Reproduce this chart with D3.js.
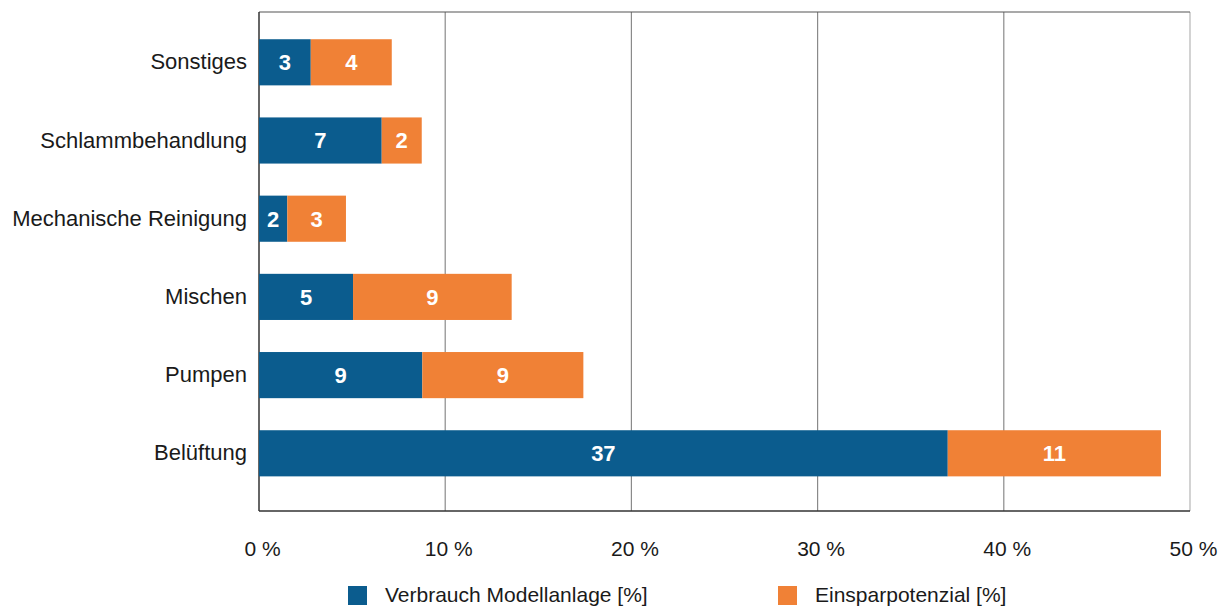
<!DOCTYPE html>
<html>
<head>
<meta charset="utf-8">
<script src="https://cdn.jsdelivr.net/npm/d3@7"></script>
<style>
  html, body { margin: 0; padding: 0; background: #fff; }
  svg { display: block; font-family: "Liberation Sans", Arial, Helvetica, sans-serif; }
</style>
</head>
<body>
<svg id="chart" width="1229" height="607"></svg>
<script>
// Energy use of a model wastewater plant by process step, with savings potential
const categories = ["Sonstiges", "Schlammbehandlung", "Mechanische Reinigung", "Mischen", "Pumpen", "Belüftung"];
const verbrauch = [2.78, 6.59, 1.52, 5.05, 8.77, 36.99];
const einsparung = [4.35, 2.15, 3.15, 8.52, 8.65, 11.45];
const seriesNames = ["Verbrauch Modellanlage [%]", "Einsparpotenzial [%]"];
const seriesColors = ["#0b5c8e", "#f08136"];
const xTicks = [0, 10, 20, 30, 40, 50];

const svg = d3.select("#chart");
const plot = { left: 259, right: 1190, top: 12, bottom: 511 };
const FONT = "Liberation Sans, Arial, sans-serif";

const x = d3.scaleLinear().domain([0, 50]).range([plot.left, plot.right]);
const y = d3.scaleBand().domain(categories).range([23.2, 492.4])
  .paddingInner(0.41).paddingOuter(0.205);

// vertical gridlines
svg.append("g").selectAll("line").data(xTicks.slice(1, -1)).join("line")
  .attr("x1", d => x(d)).attr("x2", d => x(d))
  .attr("y1", plot.top).attr("y2", plot.bottom)
  .attr("stroke", "#8a8a8a").attr("stroke-width", 1.2);

// frame
svg.append("line").attr("x1", plot.right).attr("x2", plot.right).attr("y1", plot.top).attr("y2", plot.bottom)
  .attr("stroke", "#b5b5b5").attr("stroke-width", 1.2);
svg.append("line").attr("x1", plot.left).attr("x2", plot.right).attr("y1", plot.top).attr("y2", plot.top)
  .attr("stroke", "#555").attr("stroke-width", 1.2);
svg.append("line").attr("x1", plot.left).attr("x2", plot.left).attr("y1", plot.top).attr("y2", plot.bottom)
  .attr("stroke", "#333").attr("stroke-width", 1.5);
svg.append("line").attr("x1", plot.left).attr("x2", plot.right).attr("y1", plot.bottom).attr("y2", plot.bottom)
  .attr("stroke", "#333").attr("stroke-width", 1.5);

// stacked segments
const rows = categories.map((c, i) => ({ cat: c, v: [verbrauch[i], einsparung[i]] }));
const segments = [];
rows.forEach(r => {
  let acc = 0;
  r.v.forEach((val, s) => {
    segments.push({ cat: r.cat, s, x0: acc, x1: acc + val, val });
    acc += val;
  });
});

const bars = svg.append("g");
bars.selectAll("rect").data(segments).join("rect")
  .attr("x", d => x(d.x0))
  .attr("y", d => y(d.cat))
  .attr("width", d => x(d.x1) - x(d.x0))
  .attr("height", y.bandwidth())
  .attr("fill", d => seriesColors[d.s]);

bars.selectAll("text").data(segments).join("text")
  .attr("x", d => (x(d.x0) + x(d.x1)) / 2)
  .attr("y", d => y(d.cat) + y.bandwidth() / 2)
  .attr("dy", "0.36em")
  .attr("text-anchor", "middle")
  .attr("fill", "#fff")
  .attr("font-weight", "bold")
  .attr("font-size", 22)
  .style("font-family", FONT)
  .text(d => d3.format(".0f")(d.val));

// category axis
const yAxis = d3.axisLeft(y).tickSize(0).tickPadding(12);
const gy = svg.append("g").attr("transform", `translate(${plot.left},0)`).call(yAxis);
gy.select(".domain").remove();
gy.selectAll("text").attr("font-size", 22).attr("fill", "#1a1a1a")
  .style("font-family", FONT);

// value axis
const xAxis = d3.axisBottom(x).tickValues(xTicks).tickSize(0).tickPadding(0)
  .tickFormat(d => d + " %");
const gx = svg.append("g").attr("transform", `translate(0,${plot.bottom})`).call(xAxis);
gx.select(".domain").remove();
gx.selectAll("text").attr("font-size", 21).attr("fill", "#1a1a1a")
  .attr("x", 3).attr("y", 37).attr("dy", "0.36em")
  .style("font-family", FONT);

// legend
const legendX = [348, 778];
const legend = svg.append("g");
seriesNames.forEach((name, i) => {
  legend.append("rect").attr("x", legendX[i]).attr("y", 586)
    .attr("width", 19).attr("height", 19).attr("fill", seriesColors[i]);
  legend.append("text").attr("x", legendX[i] + 37).attr("y", 594).attr("dy", "0.36em")
    .attr("font-size", 21).attr("fill", "#1a1a1a")
    .style("font-family", FONT).text(name);
});
</script>
</body>
</html>
